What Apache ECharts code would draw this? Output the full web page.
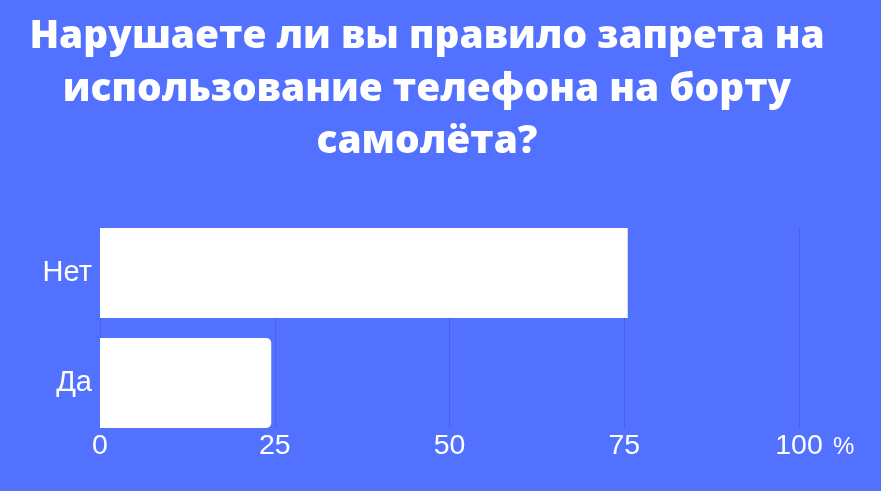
<!DOCTYPE html>
<html><head><meta charset="utf-8">
<script src="https://cdn.jsdelivr.net/npm/echarts@6/dist/echarts.min.js"></script>
<style>html,body{margin:0;padding:0;background:#5271ff}#c{width:881px;height:491px}</style>
</head><body><div id="c"></div>
<script>
const categories = ['Нет', 'Да'];
const values = [75.5, 24.5];
const tickValues = [0, 25, 50, 75, 100];
const titleText = 'Нарушаете ли вы правило запрета на\nиспользование телефона на борту\nсамолёта?';
const unitLabel = '%';

const chart = echarts.init(document.getElementById('c'), null, {renderer: 'canvas'});
const bg = '#5271ff';
chart.setOption({
  backgroundColor: bg,
  animation: false,
  title: {
    text: titleText,
    left: 422, top: 6, textAlign: 'center',
    textStyle: {color: '#fff', fontFamily: 'Open Sans', fontWeight: 800, fontSize: 38.8, lineHeight: 52.5}
  },
  grid: [
    {left: 100, right: 82, top: 218, height: 220},
    {left: 100, right: 82, top: 228, height: 200}
  ],
  xAxis: [
    {gridIndex: 0, type: 'value', min: 0, max: 100, show: false},
    {gridIndex: 1, type: 'value', min: 0, max: 100, interval: 25,
     axisLine: {show: false}, axisTick: {show: false},
     splitLine: {show: true, lineStyle: {color: '#4763e2', width: 1}},
     axisLabel: {color: '#fff', fontFamily: 'Liberation Sans', fontSize: 28.5, margin: 4,
       formatter: v => tickValues.includes(v) ? String(v) : ''},
     name: unitLabel, nameLocation: 'end', nameGap: 34,
     nameTextStyle: {color: '#fff', fontFamily: 'Liberation Sans', fontSize: 24, verticalAlign: 'top', lineHeight: 24, padding: [7, 0, 0, 0]}
    }
  ],
  yAxis: [
    {gridIndex: 0, type: 'category', data: categories, inverse: true,
     axisLine: {show: false}, axisTick: {show: false}, splitLine: {show: false},
     axisLabel: {color: '#fff', fontFamily: 'Liberation Sans', fontSize: 29, margin: 8}
    },
    {gridIndex: 1, type: 'value', show: false}
  ],
  series: [{
    type: 'bar', xAxisIndex: 0, yAxisIndex: 0, barWidth: 90,
    data: values.map((v, i) => ({value: v, itemStyle: {color: '#fff', borderRadius: i === 1 ? [0, 5, 5, 0] : 0}})),
    itemStyle: {color: '#fff'}
  }]
});
</script></body></html>
